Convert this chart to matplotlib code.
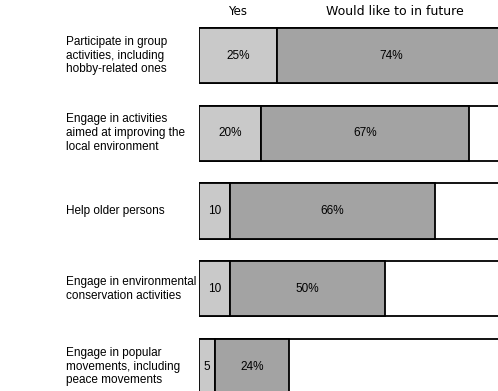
import matplotlib.pyplot as plt
from matplotlib.transforms import blended_transform_factory

plt.rcParams['font.family'] = ['Liberation Sans', 'DejaVu Sans']

# --- data ---
activities = [
    "Participate in group\nactivities, including\nhobby-related ones",
    "Engage in activities\naimed at improving the\nlocal environment",
    "Help older persons",
    "Engage in environmental\nconservation activities",
    "Engage in popular\nmovements, including\npeace movements",
]
yes_pct = [25, 20, 10, 10, 5]
future_pct = [74, 67, 66, 50, 24]
yes_labels = ["25%", "20%", "10", "10", "5"]
future_labels = ["74%", "67%", "66%", "50%", "24%"]
series_names = ["Yes", "Would like to in future"]

fig = plt.figure(figsize=(4.98, 3.91), dpi=100)
ax = fig.add_axes([0.40, 0.0, 0.60, 1.0])

y = list(range(len(activities)))
h = 0.71

# outline box spanning the whole row
ax.barh(y, [200] * len(y), height=h, color="white", edgecolor="black", linewidth=1.3)
ax.barh(y, yes_pct, height=h, color="#c9c9c9", edgecolor="black", linewidth=1.3)
ax.barh(y, future_pct, left=yes_pct, height=h, color="#a3a3a3",
        edgecolor="black", linewidth=1.3)

for i in y:
    ax.text(yes_pct[i] / 2, i, yes_labels[i], ha="center", va="center", fontsize=8.5)
    ax.text(yes_pct[i] + future_pct[i] / 2, i, future_labels[i],
            ha="center", va="center", fontsize=8.5)

# column headers (a touch wider in the original print)
ax.text(12.3, -0.56, series_names[0], ha="center", va="center", fontsize=8.5,
        family="DejaVu Sans")
ax.text(63.2, -0.56, series_names[1], ha="center", va="center", fontsize=9,
        family="DejaVu Sans")

trans = blended_transform_factory(fig.transFigure, ax.transData)
for i, lab in enumerate(activities):
    ax.text(0.133, i, lab, transform=trans, ha="left", va="center",
            fontsize=8.5, linespacing=1.2)

ax.set_xlim(0, 96.5)
ax.set_ylim(4.315, -0.714)
ax.axis("off")

fig.savefig("out.png", dpi=100)
